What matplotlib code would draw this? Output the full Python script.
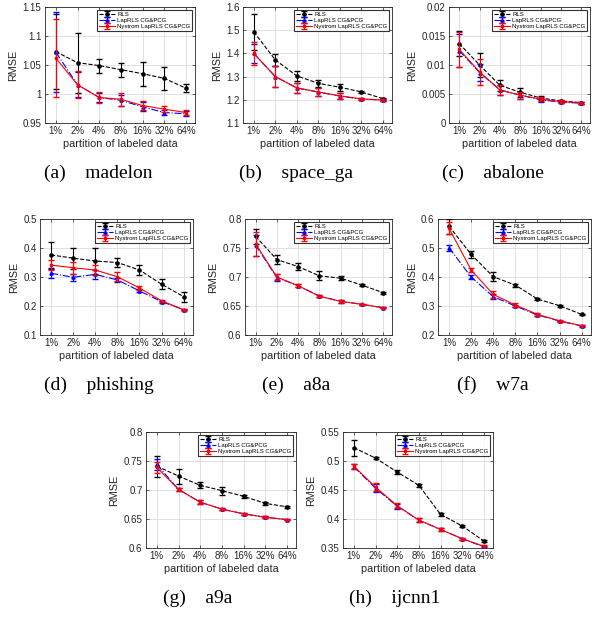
import numpy as np
import matplotlib
matplotlib.use("Agg")
from matplotlib import pyplot as plt

###################################################################################################
# DATA
partitions = ['1%', '2%', '4%', '8%', '16%', '32%', '64%']
series_names = ['RLS', 'LapRLS CG&PCG', 'Nystrom LapRLS CG&PCG']

# (a) madelon
madelon_rls = [1.073, 1.054, 1.049, 1.042, 1.035, 1.027, 1.010]
madelon_rls_err = [0.065, 0.052, 0.012, 0.012, 0.021, 0.020, 0.007]
madelon_lap = [1.072, 1.016, 0.994, 0.989, 0.978, 0.968, 0.966]
madelon_lap_err = [0.069, 0.022, 0.008, 0.010, 0.008, 0.005, 0.004]
madelon_nys = [1.062, 1.016, 0.994, 0.991, 0.980, 0.974, 0.968]
madelon_nys_err = [0.068, 0.023, 0.009, 0.011, 0.008, 0.005, 0.004]

# (b) space_ga
space_rls = [1.493, 1.372, 1.303, 1.271, 1.254, 1.234, 1.205]
space_rls_err = [0.077, 0.025, 0.020, 0.016, 0.014, 0.006, 0.004]
space_lap = [1.400, 1.300, 1.251, 1.233, 1.216, 1.203, 1.199]
space_lap_err = [0.040, 0.045, 0.020, 0.016, 0.012, 0.005, 0.004]
space_nys = [1.400, 1.300, 1.251, 1.234, 1.217, 1.204, 1.199]
space_nys_err = [0.050, 0.045, 0.020, 0.016, 0.012, 0.005, 0.004]

# (c) abalone
abalone_rls = [0.0137, 0.0100, 0.0065, 0.0053, 0.0043, 0.0038, 0.0035]
abalone_rls_err = [0.0022, 0.0020, 0.0010, 0.0008, 0.0003, 0.0002, 0.0002]
abalone_lap = [0.0125, 0.0087, 0.0057, 0.0048, 0.0040, 0.0036, 0.0034]
abalone_lap_err = [0.0028, 0.0015, 0.0009, 0.0006, 0.0003, 0.0002, 0.0002]
abalone_nys = [0.0127, 0.0088, 0.0057, 0.0048, 0.0041, 0.0037, 0.0035]
abalone_nys_err = [0.0030, 0.0022, 0.0009, 0.0006, 0.0003, 0.0002, 0.0002]

# (d) phishing
phishing_rls = [0.376, 0.365, 0.355, 0.350, 0.324, 0.275, 0.232]
phishing_rls_err = [0.045, 0.036, 0.044, 0.017, 0.017, 0.018, 0.018]
phishing_lap = [0.313, 0.299, 0.309, 0.290, 0.252, 0.215, 0.187]
phishing_lap_err = [0.015, 0.012, 0.016, 0.008, 0.005, 0.003, 0.002]
phishing_nys = [0.341, 0.332, 0.324, 0.301, 0.262, 0.218, 0.187]
phishing_nys_err = [0.018, 0.020, 0.017, 0.015, 0.008, 0.004, 0.003]

# (e) a8a
a8a_rls = [0.770, 0.730, 0.718, 0.702, 0.698, 0.686, 0.673]
a8a_rls_err = [0.013, 0.008, 0.006, 0.008, 0.003, 0.002, 0.002]
a8a_lap = [0.755, 0.699, 0.685, 0.667, 0.658, 0.653, 0.647]
a8a_lap_err = [0.018, 0.006, 0.003, 0.002, 0.002, 0.001, 0.001]
a8a_nys = [0.757, 0.700, 0.685, 0.667, 0.658, 0.653, 0.647]
a8a_nys_err = [0.020, 0.006, 0.003, 0.002, 0.002, 0.001, 0.001]

# (f) w7a
w7a_rls = [0.575, 0.478, 0.401, 0.372, 0.324, 0.301, 0.271]
w7a_rls_err = [0.025, 0.012, 0.015, 0.005, 0.004, 0.003, 0.003]
w7a_lap = [0.501, 0.400, 0.332, 0.300, 0.269, 0.248, 0.231]
w7a_lap_err = [0.010, 0.006, 0.008, 0.005, 0.003, 0.002, 0.002]
w7a_nys = [0.568, 0.424, 0.340, 0.303, 0.271, 0.249, 0.232]
w7a_nys_err = [0.020, 0.008, 0.012, 0.006, 0.004, 0.003, 0.002]

# (g) a9a
a9a_rls = [0.741, 0.724, 0.708, 0.699, 0.689, 0.677, 0.671]
a9a_rls_err = [0.018, 0.013, 0.005, 0.007, 0.003, 0.003, 0.002]
a9a_lap = [0.744, 0.701, 0.679, 0.667, 0.659, 0.653, 0.649]
a9a_lap_err = [0.010, 0.003, 0.003, 0.002, 0.002, 0.002, 0.001]
a9a_nys = [0.739, 0.701, 0.679, 0.667, 0.659, 0.653, 0.649]
a9a_nys_err = [0.010, 0.003, 0.003, 0.002, 0.002, 0.002, 0.001]

# (h) ijcnn1
ijcnn1_rls = [0.523, 0.505, 0.481, 0.458, 0.408, 0.388, 0.362]
ijcnn1_rls_err = [0.014, 0.002, 0.004, 0.003, 0.002, 0.002, 0.002]
ijcnn1_lap = [0.490, 0.453, 0.422, 0.398, 0.382, 0.366, 0.352]
ijcnn1_lap_err = [0.004, 0.007, 0.004, 0.003, 0.002, 0.002, 0.002]
ijcnn1_nys = [0.491, 0.455, 0.423, 0.398, 0.382, 0.366, 0.353]
ijcnn1_nys_err = [0.004, 0.007, 0.004, 0.003, 0.002, 0.002, 0.002]

###################################################################################################
# panel : caption, data, y ticks, axes box in pixels (left, right, top, bottom), caption centre
W, H = 592, 618
panels = [
	('(a)', 'madelon', (madelon_rls, madelon_rls_err, madelon_lap, madelon_lap_err, madelon_nys, madelon_nys_err),
		[0.95, 1.0, 1.05, 1.1, 1.15], (45, 195, 7, 123), (98.7, 173)),
	('(b)', 'space_ga', (space_rls, space_rls_err, space_lap, space_lap_err, space_nys, space_nys_err),
		[1.1, 1.2, 1.3, 1.4, 1.5, 1.6], (243, 392, 7, 123), (296, 173)),
	('(c)', 'abalone', (abalone_rls, abalone_rls_err, abalone_lap, abalone_lap_err, abalone_nys, abalone_nys_err),
		[0, 0.005, 0.01, 0.015, 0.02], (449, 590, 7, 123), (493.3, 173)),
	('(d)', 'phishing', (phishing_rls, phishing_rls_err, phishing_lap, phishing_lap_err, phishing_nys, phishing_nys_err),
		[0.1, 0.2, 0.3, 0.4, 0.5], (40, 193, 219, 335), (98.7, 385)),
	('(e)', 'a8a', (a8a_rls, a8a_rls_err, a8a_lap, a8a_lap_err, a8a_nys, a8a_nys_err),
		[0.6, 0.65, 0.7, 0.75, 0.8], (245, 392, 219, 335), (296, 385)),
	('(f)', 'w7a', (w7a_rls, w7a_rls_err, w7a_lap, w7a_lap_err, w7a_nys, w7a_nys_err),
		[0.2, 0.3, 0.4, 0.5, 0.6], (438, 591, 219, 335), (493.3, 385)),
	('(g)', 'a9a', (a9a_rls, a9a_rls_err, a9a_lap, a9a_lap_err, a9a_nys, a9a_nys_err),
		[0.6, 0.65, 0.7, 0.75, 0.8], (146, 296, 432, 548), (197.5, 598)),
	('(h)', 'ijcnn1', (ijcnn1_rls, ijcnn1_rls_err, ijcnn1_lap, ijcnn1_lap_err, ijcnn1_nys, ijcnn1_nys_err),
		[0.35, 0.4, 0.45, 0.5, 0.55], (343, 493, 432, 548), (394.5, 598)),
]

plt.rcParams['font.family'] = ['Liberation Sans', 'DejaVu Sans']
axcol = '#262626'

fig = plt.figure(figsize=(W / 100, H / 100), dpi=100)
x = np.arange(1, len(partitions) + 1)

for tag, name, data, yticks, box, cap in panels:
	l, r, t, b = box
	ax = fig.add_axes([l / W, 1 - b / H, (r - l) / W, (b - t) / H])
	rls, rls_err, lap, lap_err, nys, nys_err = data

	ax.errorbar(x, rls, yerr=rls_err, color='k', ls='--', lw=0.8, marker='o', ms=2.3,
		capsize=2.2, elinewidth=0.8, label=series_names[0], zorder=3)
	ax.errorbar(x, lap, yerr=lap_err, color='b', ls='-.', lw=0.8, marker='^', ms=2.3,
		capsize=2.2, elinewidth=0.8, label=series_names[1], zorder=4)
	ax.errorbar(x, nys, yerr=nys_err, color='r', ls='-', lw=0.8, marker='s', ms=1.6,
		capsize=2.2, elinewidth=0.8, label=series_names[2], zorder=5)

	ax.set_xlim(0.5, 7.42)
	ax.set_ylim(yticks[0], yticks[-1])
	ax.set_xticks(x)
	ax.set_xticklabels(partitions)
	ax.set_yticks(yticks)
	ax.set_yticklabels(['%g' % v for v in yticks])
	ax.grid(True, color='#dcdcdc', lw=0.6)
	ax.set_axisbelow(True)
	ax.tick_params(direction='in', length=2, width=0.5, colors=axcol, labelsize=7,
		top=True, right=True, pad=2.5)
	for sp in ax.spines.values():
		sp.set_color(axcol)
		sp.set_linewidth(0.6)
	ax.set_xlabel('partition of labeled data', fontsize=7.8, color=axcol, labelpad=2)
	ax.set_ylabel('RMSE', fontsize=7.8, color=axcol, labelpad=3)

	leg = ax.legend(loc='upper right', fontsize=4.3, frameon=True, fancybox=False,
		borderpad=0.25, labelspacing=0.2, handlelength=2.8, handletextpad=0.3,
		borderaxespad=0.5)
	leg.get_frame().set_edgecolor('k')
	leg.get_frame().set_linewidth(0.8)

	fig.text(cap[0] / W, 1 - cap[1] / H, tag + '    ' + name, ha='center', va='center',
		fontsize=14, family=['Liberation Serif', 'DejaVu Serif'])

fig.savefig('out.png', dpi=100)
